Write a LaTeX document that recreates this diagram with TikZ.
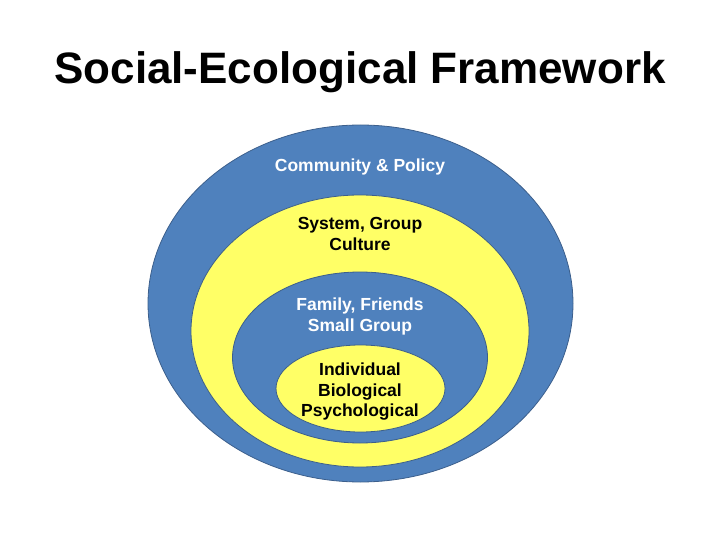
\documentclass[tikz,border=0pt]{standalone}
\usepackage{fontspec}
\setmainfont{Liberation Sans}
\usetikzlibrary{shapes.geometric, positioning}
\definecolor{ringblue}{RGB}{79,129,189}
\definecolor{ringyellow}{RGB}{255,255,102}
\definecolor{ringedge}{RGB}{60,95,140}

\begin{document}
\begin{tikzpicture}[x=1pt, y=-1pt,
    ring/.style={ellipse, draw=ringedge, line width=0.8pt, inner sep=0pt},
    ringtext/.style={font=\fontsize{17.5}{20.7}\selectfont\bfseries, align=center}]
    \useasboundingbox (0,0) rectangle (720,540);

    % Title
    \node[font=\fontsize{44}{50}\selectfont\bfseries, anchor=base] (title) at (360,84) {Social-Ecological Framework};

    % Nested rings, outside in
    \node[ring, fill=ringblue, minimum width=425pt, minimum height=357pt] (community) at (360.5,303.5) {};
    \node[ring, fill=ringyellow, minimum width=338pt, minimum height=272pt] (system) at (360,331) {};
    \node[ring, fill=ringblue, minimum width=255pt, minimum height=171pt] (family) at (360,357.5) {};
    \node[ring, fill=ringyellow, minimum width=169pt, minimum height=87pt] (individual) at (360.5,388.5) {};

    % Ring labels
    \node[ringtext, text=white, anchor=base] (communitytext) at (360,172) {Community \& Policy};
    \node[ringtext] (systemtext) at (360,234) {System, Group\\Culture};
    \node[ringtext, text=white] (familytext) at (360,316.7) {Family, Friends\\Small Group};
    \node[ringtext] (individualtext) at (360,391.7) {Individual\\Biological\\Psychological};
\end{tikzpicture}
\end{document}
